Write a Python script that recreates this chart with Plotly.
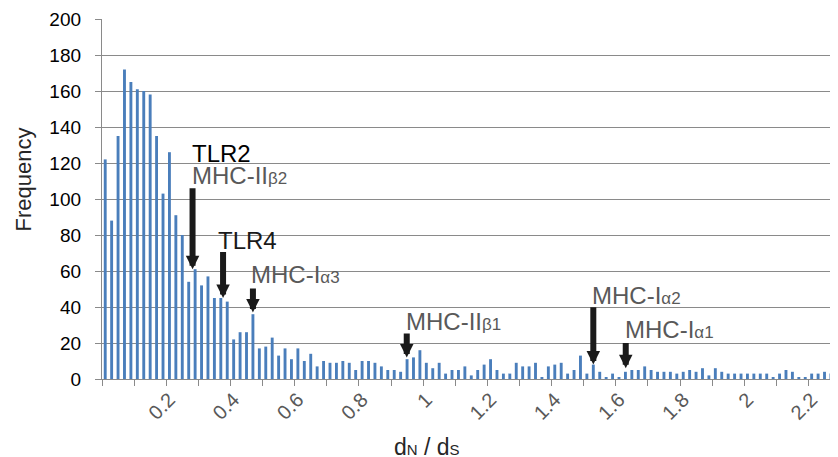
import plotly.graph_objects as go

# Frequency of genes per dN/dS bin (bin width 0.02, first bin at 0)
freq = [122, 88, 135, 172, 165, 161, 160, 158, 135, 103,
        126, 91, 80, 54, 61, 52, 57, 45, 45, 43,
        22, 26, 26, 36, 17, 18, 23, 13, 17, 11,
        17, 10, 14, 7, 10, 9, 9, 10, 9, 5,
        10, 10, 9, 7, 5, 5, 4, 11, 12, 16,
        9, 6, 9, 3, 5, 5, 7, 2, 5, 8,
        11, 5, 3, 3, 9, 7, 7, 9, 1, 7,
        8, 9, 3, 5, 13, 3, 8, 4, 1, 3,
        1, 4, 5, 5, 7, 5, 4, 4, 4, 3,
        4, 5, 4, 6, 2, 6, 4, 3, 3, 3,
        3, 3, 3, 3, 1, 3, 5, 4, 1, 1,
        3, 3, 4, 3, 4]
bin_step = 0.02
bins = [round(i * bin_step, 2) for i in range(len(freq))]

tick_vals = [0.2, 0.4, 0.6, 0.8, 1.0, 1.2, 1.4, 1.6, 1.8, 2.0, 2.2]
tick_text = ["0.2", "0.4", "0.6", "0.8", "1", "1.2", "1.4", "1.6", "1.8", "2", "2.2"]

# Candidate genes: name (HTML), dN/dS, frequency of their bin
gene_names = ["TLR2", "TLR4", "MHC-I<span style='font-size:17px'>α3</span>",
              "MHC-II<span style='font-size:17px'>β1</span>",
              "MHC-I<span style='font-size:17px'>α2</span>",
              "MHC-I<span style='font-size:17px'>α1</span>"]
gene_dnds = [0.272, 0.367, 0.460, 0.939, 1.520, 1.621]
gene_freq = [61, 45, 37, 12, 8, 6]
extra_label = "MHC-II<span style='font-size:17px'>β2</span>"

# layout-only placement of labels (x, y of text, arrow tail y)
label_pos = [(0.263, 125.4, 106.8), (0.346, 77.1, 71.4), (0.447, 58.2, 51.1),
             (0.930, 32.1, 26.1), (1.509, 46.6, 40.7), (1.611, 27.4, 20.9)]
label_col = ["#000000", "#1a1a1a", "#595959", "#595959", "#595959", "#595959"]

FONT = "Liberation Sans, Arial, sans-serif"
GRID = "#8a8a8a"

fig = go.Figure()
fig.add_trace(go.Bar(x=bins, y=freq, width=0.009,
                     marker=dict(color="#4a7ebb", line=dict(width=0)),
                     showlegend=False, hoverinfo="x+y"))

annotations = []
for name, xd, yd, (lx, ly, tail), col in zip(gene_names, gene_dnds, gene_freq,
                                              label_pos, label_col):
    annotations.append(dict(x=lx, y=ly, xref="x", yref="y", text=name,
                            showarrow=False, xanchor="left", yanchor="middle",
                            font=dict(family=FONT, size=24, color=col)))
    annotations.append(dict(x=xd, y=yd, ax=xd, ay=tail, xref="x", yref="y",
                            axref="x", ayref="y", text="", showarrow=True,
                            arrowhead=2, arrowsize=0.45, arrowwidth=6,
                            arrowcolor="#1a1a1a", standoff=0))
annotations.append(dict(x=0.263, y=112.9, xref="x", yref="y", text=extra_label,
                        showarrow=False, xanchor="left", yanchor="middle",
                        font=dict(family=FONT, size=24, color="#595959")))
annotations.append(dict(x=0.441, y=-0.190, xref="paper", yref="paper",
                        text="d<span style='font-size:15px'>N</span> / "
                             "d<span style='font-size:15px'>S</span>",
                        showarrow=False, xanchor="center", yanchor="middle",
                        font=dict(family=FONT, size=23, color="#262626")))
annotations.append(dict(x=-0.1064, y=0.5536, xref="paper", yref="paper",
                        text="Frequency", showarrow=False, textangle=-90,
                        xanchor="center", yanchor="middle",
                        font=dict(family=FONT, size=22, color="#262626")))

fig.update_layout(
    width=830, height=449,
    margin=dict(l=94, r=0, t=11, b=78, autoexpand=False),
    paper_bgcolor="white", plot_bgcolor="white",
    bargap=0.5,
    annotations=annotations,
    xaxis=dict(range=[-0.01, 2.282], showgrid=False, zeroline=False,
               showline=True, linecolor=GRID, linewidth=1.3, automargin=False,
               tickmode="array", tickvals=tick_vals, ticktext=tick_text,
               ticks="", tickangle=-45,
               tickfont=dict(family=FONT, size=20, color="#595959"),
               minor=dict(tickmode="linear", tick0=-0.01, dtick=0.1,
                          ticks="outside", ticklen=6, tickcolor=GRID,
                          tickwidth=1.3, showgrid=False)),
    yaxis=dict(range=[0, 200], dtick=20, showgrid=True, gridcolor=GRID,
               gridwidth=1.3, zeroline=False, showline=True, linecolor=GRID,
               linewidth=1.3, ticks="outside", ticklen=6, tickcolor=GRID,
               tickwidth=1.3, ticklabelstandoff=10, automargin=False,
               tickfont=dict(family=FONT, size=19, color="#000000")),
)

fig.write_html("out.html")
